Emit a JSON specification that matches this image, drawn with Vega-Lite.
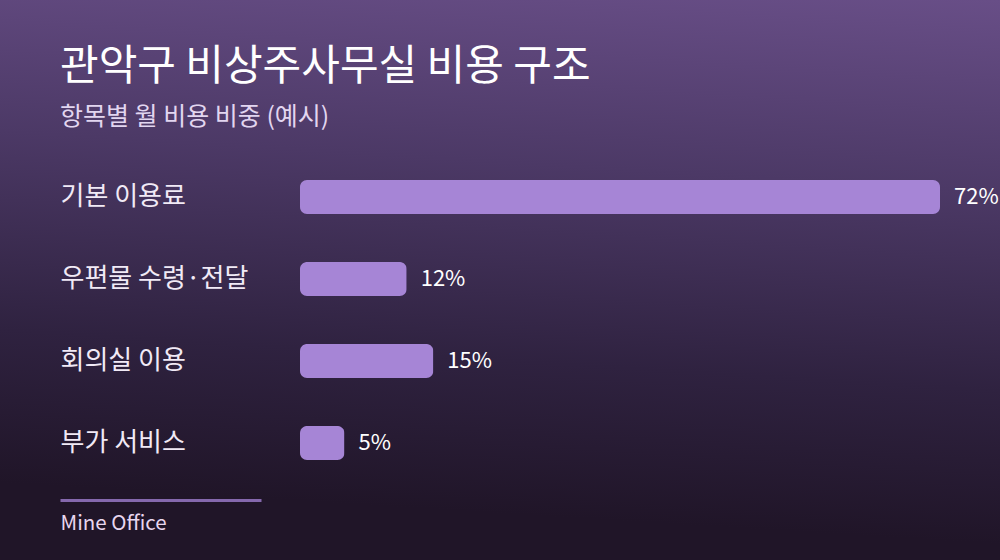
{
  "$schema": "https://vega.github.io/schema/vega-lite/v6.json",
  "width": 1000,
  "height": 560,
  "autosize": {"type": "none"},
  "padding": 0,
  "background": "#2c2039",
  "view": {
    "stroke": null,
    "fill": {
      "gradient": "linear",
      "x1": 1, "y1": 0, "x2": 0.89, "y2": 1,
      "stops": [
        {"offset": 0, "color": "#684e87"},
        {"offset": 0.34, "color": "#4c3966"},
        {"offset": 0.69, "color": "#2f2240"},
        {"offset": 0.96, "color": "#201528"}
      ]
    }
  },
  "title": {
    "text": "관악구 비상주사무실 비용 구조",
    "subtitle": "항목별 월 비용 비중 (예시)",
    "anchor": "start",
    "frame": "group",
    "dx": 60,
    "offset": -131,
    "fontSize": 42,
    "fontWeight": "normal",
    "color": "#ffffff",
    "subtitleFontSize": 25,
    "subtitleColor": "#e2d6f0",
    "subtitlePadding": 16
  },
  "data": {
    "values": [
      {"item": "기본 이용료", "share": 0.72},
      {"item": "우편물 수령·전달", "share": 0.12},
      {"item": "회의실 이용", "share": 0.15},
      {"item": "부가 서비스", "share": 0.05}
    ]
  },
  "encoding": {
    "y": {
      "field": "item",
      "type": "nominal",
      "sort": null,
      "title": null,
      "scale": {"range": [180, 460], "paddingInner": 0.585, "paddingOuter": 0},
      "axis": {
        "orient": "left",
        "domain": false,
        "ticks": false,
        "tickSize": 0,
        "labelPadding": -60,
        "labelAlign": "left",
        "labelFontSize": 26,
        "labelColor": "#f1eaf6",
        "labelLimit": 400,
        "grid": false
      }
    },
    "x": {
      "field": "share",
      "type": "quantitative",
      "scale": {"domain": [-0.3375, 0.7875], "nice": false, "zero": false},
      "axis": {
        "orient": "bottom",
        "offset": -60,
        "grid": false,
        "labels": false,
        "ticks": false,
        "domain": true,
        "domainColor": "#8568ad",
        "domainWidth": 3,
        "domainDash": [201, 3000],
        "domainDashOffset": -60,
        "title": "Mine Office",
        "titleAnchor": "start",
        "titleAlign": "left",
        "titleBaseline": "alphabetic",
        "titleX": 60,
        "titleY": 29,
        "titleFontSize": 20.5,
        "titleFontWeight": "normal",
        "titleColor": "#e8d6ef"
      }
    }
  },
  "layer": [
    {
      "mark": {"type": "bar", "color": "#a685d6", "cornerRadius": 7}
    },
    {
      "mark": {"type": "text", "align": "left", "baseline": "middle", "dx": 14, "fontSize": 22, "color": "#ffffff"},
      "encoding": {
        "text": {"field": "share", "type": "quantitative", "format": ".0%"}
      }
    }
  ],
  "config": {
    "font": "Noto Sans CJK KR"
  }
}
